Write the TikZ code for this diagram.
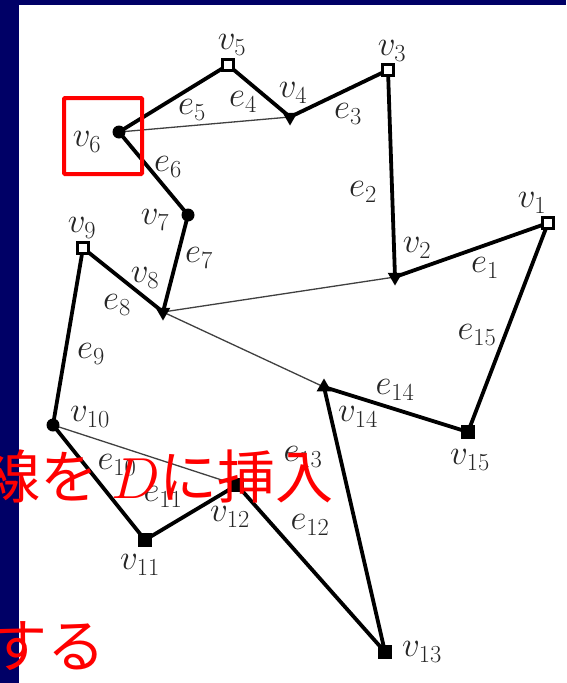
\RequirePackage{fix-cm}
\documentclass[tikz,border=0pt]{standalone}
\usepackage{fontspec}
\newfontfamily\jafont{Noto Sans CJK JP}
\usetikzlibrary{shapes.geometric}
\definecolor{slidenavy}{RGB}{0,0,102}

\begin{document}
\begin{tikzpicture}[x=1pt,y=-1pt,
  edge/.style={line width=3.8pt, line cap=round, line join=round},
  chord/.style={line width=1.3pt, black!75},
  opensq/.style={draw, line width=2.6pt, fill=white, minimum size=10.5pt, inner sep=0pt},
  fillsq/.style={fill=black, minimum size=14pt, inner sep=0pt},
  dot/.style={circle, fill=black, minimum size=13pt, inner sep=0pt},
  tridown/.style={regular polygon, regular polygon sides=3, shape border rotate=180, fill=black, minimum size=17pt, inner sep=0pt},
  triup/.style={regular polygon, regular polygon sides=3, fill=black, minimum size=17pt, inner sep=0pt},
  lab/.style={text=black!85, font=\fontsize{35}{40}\selectfont, inner sep=0pt},
  redtxt/.style={text=red, font=\fontsize{58}{64}\selectfont\jafont, inner sep=0pt}]
\useasboundingbox (0,0) rectangle (566,683);
\clip (0,0) rectangle (566,683);
\fill[white] (0,0) rectangle (566,683);
\fill[slidenavy] (0,0) rectangle (19,683);
\fill[slidenavy] (0,0) rectangle (566,5);

% vertices
\coordinate (v1) at (548,223);
\coordinate (v2) at (395,277);
\coordinate (v3) at (388,70);
\coordinate (v4) at (290,117);
\coordinate (v5) at (228,65);
\coordinate (v6) at (119,132);
\coordinate (v7) at (188,215);
\coordinate (v8) at (163,312);
\coordinate (v9) at (83,248);
\coordinate (v10) at (53,425);
\coordinate (v11) at (145,540);
\coordinate (v12) at (237,485);
\coordinate (v13) at (385,652);
\coordinate (v14) at (324,387);
\coordinate (v15) at (468,432);

% chords
\draw[chord] (v6) -- (v4);
\draw[chord] (v8) -- (v2);
\draw[chord] (v8) -- (v14);
\draw[chord] (v10) -- (v12);

% boundary
\draw[edge] (v1) -- (v2) -- (v3) -- (v4) -- (v5) -- (v6) -- (v7) -- (v8)
  -- (v9) -- (v10) -- (v11) -- (v12) -- (v13) -- (v14) -- (v15) -- cycle;

% markers
\node[opensq] (m1) at (v1) {};
\node[tridown] (m2) at (v2) {};
\node[opensq] (m3) at (v3) {};
\node[tridown] (m4) at (v4) {};
\node[opensq] (m5) at (v5) {};
\node[dot] (m6) at (v6) {};
\node[dot] (m7) at (v7) {};
\node[tridown] (m8) at (v8) {};
\node[opensq] (m9) at (v9) {};
\node[dot] (m10) at (v10) {};
\node[fillsq] (m11) at (v11) {};
\node[fillsq] (m12) at (v12) {};
\node[fillsq] (m13) at (v13) {};
\node[triup] (m14) at (v14) {};
\node[fillsq] (m15) at (v15) {};

% vertex labels
\node[lab] (lv1) at (532,203) {$v_{1}$};
\node[lab] (lv2) at (417,248) {$v_{2}$};
\node[lab] (lv3) at (392,51) {$v_{3}$};
\node[lab] (lv4) at (293,93) {$v_{4}$};
\node[lab] (lv5) at (232,45) {$v_{5}$};
\node[lab] (lv6) at (87,142) {$v_{6}$};
\node[lab] (lv7) at (155,220) {$v_{7}$};
\node[lab] (lv8) at (145,278) {$v_{8}$};
\node[lab] (lv9) at (82,228) {$v_{9}$};
\node[lab] (lv10) at (90,417) {$v_{10}$};
\node[lab] (lv11) at (140,565) {$v_{11}$};
\node[lab] (lv12) at (230,517) {$v_{12}$};
\node[lab] (lv13) at (422,652) {$v_{13}$};
\node[lab] (lv14) at (358,417) {$v_{14}$};
\node[lab] (lv15) at (470,460) {$v_{15}$};

% edge labels
\node[lab] (le1) at (485,268) {$e_{1}$};
\node[lab] (le2) at (363,192) {$e_{2}$};
\node[lab] (le3) at (348,114) {$e_{3}$};
\node[lab] (le4) at (243,102) {$e_{4}$};
\node[lab] (le5) at (192,110) {$e_{5}$};
\node[lab] (le6) at (168,167) {$e_{6}$};
\node[lab] (le7) at (199,258) {$e_{7}$};
\node[lab] (le8) at (117,305) {$e_{8}$};
\node[lab] (le9) at (91,354) {$e_{9}$};
\node[lab] (le10) at (117,465) {$e_{10}$};
\node[lab] (le11) at (163,497) {$e_{11}$};
\node[lab] (le12) at (310,525) {$e_{12}$};
\node[lab] (le13) at (303,457) {$e_{13}$};
\node[lab] (le14) at (395,390) {$e_{14}$};
\node[lab] (le15) at (477,335) {$e_{15}$};

% highlight around v6
\draw[red, line width=4pt, rounded corners=1pt] (64,98) rectangle (142,174);

% slide text
\node[redtxt, anchor=base east] (ins) at (334,498) {線を $D$に挿入};
\node[redtxt, anchor=base east] (suru) at (106,667) {する};
\end{tikzpicture}
\end{document}
